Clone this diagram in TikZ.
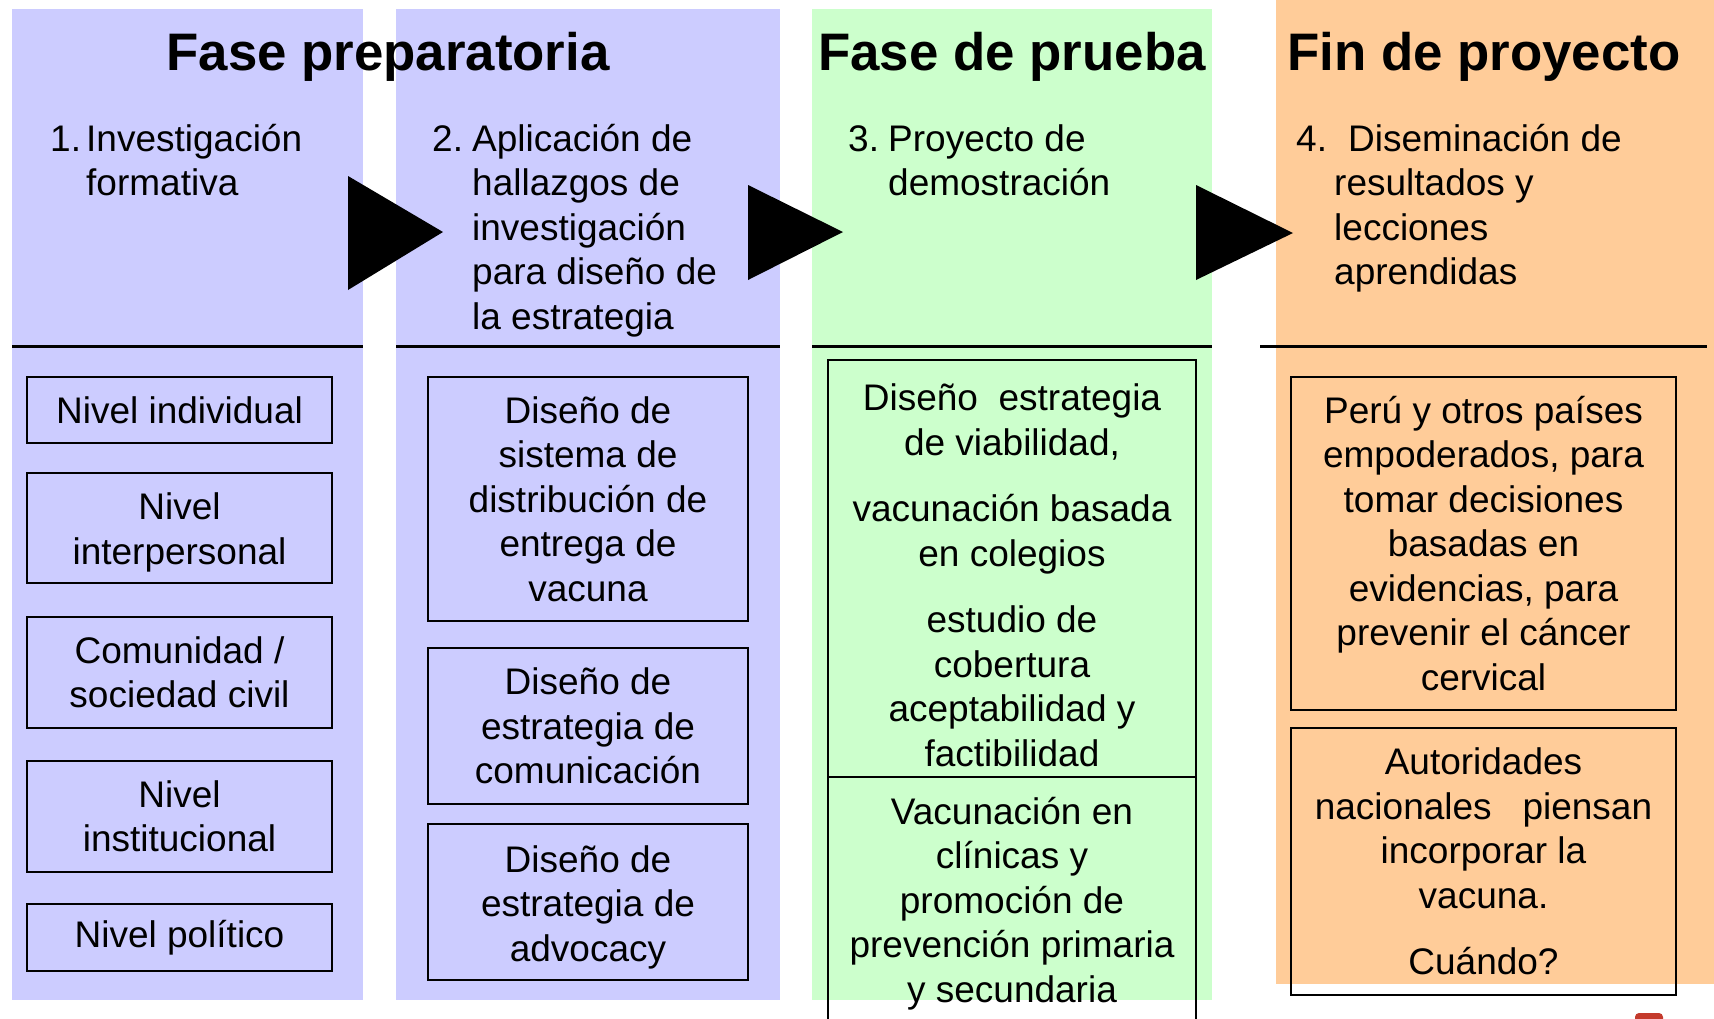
\documentclass[tikz,border=0pt]{standalone}
\usepackage{fontspec}
\setmainfont{Liberation Sans}
\definecolor{prepblue}{RGB}{204,204,255}
\definecolor{testgreen}{RGB}{204,255,204}
\definecolor{endorange}{RGB}{255,204,153}
\definecolor{logored}{RGB}{196,58,44}
\newcommand{\txtfont}{\fontsize{37}{44.5}\selectfont}
\newcommand{\ttlfont}{\fontsize{52.8}{60}\selectfont\bfseries}

\begin{document}
\begin{tikzpicture}[
    x=1pt, y=-1pt,
    title/.style={anchor=base, font=\ttlfont, inner sep=0pt},
    head/.style={anchor=base west, font=\txtfont, inner sep=0pt},
    level/.style={draw, line width=2pt, align=center, font=\txtfont,
      inner sep=0pt, minimum width=305pt},
    design/.style={level, minimum width=320pt},
    trial/.style={level, minimum width=368pt},
    result/.style={level, minimum width=385pt},
    rule/.style={line width=3pt},
    phase arrow/.style={fill=black}
  ]
  \useasboundingbox (0,0) rectangle (1714,1018);
  % panels
  \fill[prepblue] (12,9) rectangle (363,1000);
  \fill[prepblue] (396,9) rectangle (780,1000);
  \fill[testgreen] (812,9) rectangle (1212,1000);
  \fill[endorange] (1276,0) rectangle (1714,984);
  \fill[logored, rounded corners=4pt] (1635,1013) rectangle (1663,1040);

  \node[title] (prep) at (388,70) {Fase preparatoria};
  \node[title] (prueba) at (1012,70) {Fase de prueba};
  \node[title] (fin) at (1484,70) {Fin de proyecto};

  \node[head] (n1) at (50,151) {1.};
  \node[head] (t1) at (86,151) {\begin{tabular}[t]{@{}l@{}}Investigación\\formativa\end{tabular}};
  \node[head] (n2) at (432,151) {2.};
  \node[head] (t2) at (472,151) {\begin{tabular}[t]{@{}l@{}}Aplicación de\\hallazgos de\\investigación\\para diseño de\\la estrategia\end{tabular}};
  \node[head] (n3) at (848,151) {3.};
  \node[head] (t3) at (888,151) {\begin{tabular}[t]{@{}l@{}}Proyecto de\\demostración\end{tabular}};
  \node[head] (n4) at (1296,151) {4.};
  \node[head] (t4) at (1334,151) {\begin{tabular}[t]{@{}l@{}}\hspace*{14pt}Diseminación de\\resultados y\\lecciones\\aprendidas\end{tabular}};

  \fill[phase arrow] (348,176) -- (348,290) -- (443,232) -- cycle;
  \fill[phase arrow] (748,185) -- (748,280) -- (843,232) -- cycle;
  \fill[phase arrow] (1196,185) -- (1196,280) -- (1293,233) -- cycle;

  \draw[rule] (12,346) -- (363,346);
  \draw[rule] (396,346) -- (780,346);
  \draw[rule] (812,346) -- (1212,346);
  \draw[rule] (1260,346) -- (1707,346);

  % niveles
  \node[level, minimum height=66pt] (ind) at (179.5,410) {Nivel individual};
  \node[level, minimum height=110pt] (inter) at (179.5,528) {\rule{0pt}{36pt}Nivel\\interpersonal};
  \node[level, minimum height=111pt] (comu) at (179.5,672.5) {Comunidad /\\sociedad civil};
  \node[level, minimum height=111pt] (inst) at (179.5,816.5) {Nivel\\institucional};
  \node[level, minimum height=67pt] (pol) at (179.5,937.5) {Nivel político};

  % estrategia
  \node[design, minimum height=244pt] (dist) at (588,499) {Diseño de\\sistema de\\distribución de\\entrega de\\vacuna};
  \node[design, minimum height=156pt] (comm) at (588,726) {Diseño de\\estrategia de\\comunicación};
  \node[design, minimum height=156pt] (advo) at (588,902) {\rule{0pt}{37pt}Diseño de\\estrategia de\\advocacy};

  % demostracion
  \node[trial, minimum height=417pt] (viab) at (1012,568.5) {\rule{0pt}{40pt}Diseño\ \ estrategia\\de viabilidad,\\[22pt]vacunación basada\\en colegios\\[22pt]estudio de\\cobertura\\aceptabilidad y\\factibilidad};
  \node[trial, minimum height=253pt] (clin) at (1012,903.5) {Vacunación en\\clínicas y\\promoción de\\prevención primaria\\y secundaria};

  % resultados
  \node[result, minimum height=333pt] (peru) at (1483.5,543.5) {Perú y otros países\\empoderados, para\\tomar decisiones\\basadas en\\evidencias, para\\prevenir el cáncer\\cervical};
  \node[result, minimum height=267pt] (auto) at (1483.5,861.5) {Autoridades\\nacionales\ \ \ piensan\\incorporar la\\vacuna.\\[22pt]Cuándo?};
\end{tikzpicture}
\end{document}
